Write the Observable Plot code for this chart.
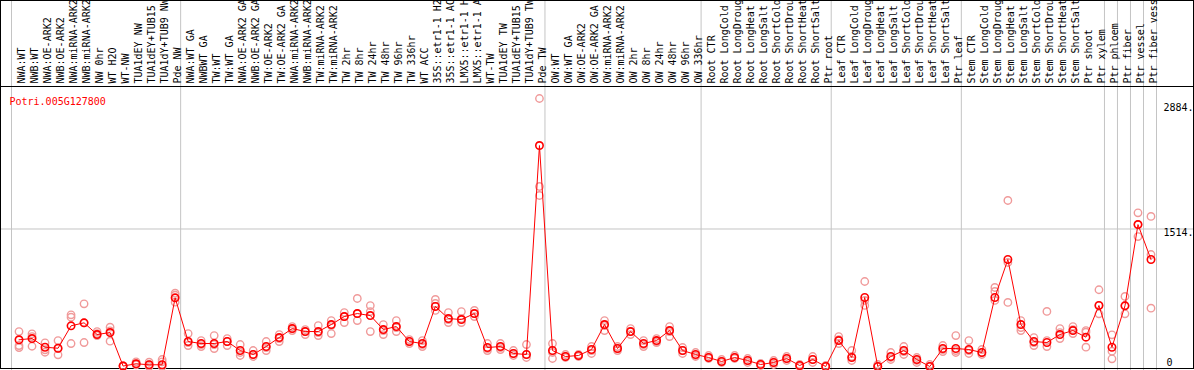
<!DOCTYPE html>
<html><head><meta charset="utf-8">
<script src="https://cdn.jsdelivr.net/npm/d3@7"></script>
<script src="https://cdn.jsdelivr.net/npm/@observablehq/plot@0.6"></script>
<style>html,body{margin:0;padding:0;background:#fff;} svg{display:block}</style>
</head><body><div id="chart"></div>
<script>
const geneId = "Potri.005G127800";
const categories = [
"NWA:WT","NWB:WT","NWA:OE-ARK2","NWB:OE-ARK2","NWA:miRNA-ARK2","NWB:miRNA-ARK2","NW 0hr","WT H2O","WT-NW","TUA1dEY NW","TUA1dEY+TUB15","TUA1dY+TUB9 NW","Pde NW",
"NWA:WT GA","NWBWT GA","TW:WT","TW:WT GA","NWA:OE-ARK2 GA","NWB:OE-ARK2 GA","TW:OE-ARK2","TW:OE-ARK2 GA","NWA:miRNA-ARK2","NWB:miRNA-ARK2","TW:miRNA-ARK2","TW:miRNA-ARK2","TW 2hr","TW 8hr","TW 24hr","TW 48hr","TW 96hr","TW 336hr","WT ACC","35S::etr1-1 H2","35S::etr1-1 AC","LMX5::etr1-1 H","LMX5::etr1-1 A","WT-TW","TUA1dEY TW","TUA1dEY+TUB15","TUA1dY+TUB9 TW","Pde TW",
"OW:WT","OW:WT GA","OW:OE-ARK2","OW:OE-ARK2 GA","OW:miRNA-ARK2","OW:miRNA-ARK2","OW 2hr","OW 8hr","OW 24hr","OW 48hr","OW 96hr","OW 336hr",
"Root CTR","Root LongCold","Root LongDroug","Root LongHeat","Root LongSalt","Root ShortCold","Root ShortDrou","Root ShortHeat","Root ShortSalt","Ptr root",
"Leaf CTR","Leaf LongCold","Leaf LongDroug","Leaf LongHeat","Leaf LongSalt","Leaf ShortCold","Leaf ShortDrou","Leaf ShortHeat","Leaf ShortSalt","Ptr leaf",
"Stem CTR","Stem LongCold","Stem LongDroug","Stem LongHeat","Stem LongSalt","Stem ShortCold","Stem ShortDrou","Stem ShortHeat","Stem ShortSalt","Ptr shoot","Ptr xylem",
"Ptr phloem","Ptr fiber","Ptr vessel","Ptr fiber vess"
];
// index of the first sample of each group (and the end)
const groupBreaks = [0,13,41,53,63,73,84,85,86,87,88];
const means = [
294,308,212,201,448,481,352,374,5,30,19,19,756,
275,253,253,275,176,132,220,319,418,385,385,462,550,583,561,407,440,275,253,661,528,517,583,209,220,143,132,2433,
176,110,121,187,462,198,385,253,286,396,176,132,
99,55,99,66,22,44,88,11,77,0,
286,99,760,0,110,176,77,0,198,198,
187,154,760,1178,462,275,264,352,396,323,672,
212,668,1563,1178
];
const rep1 = [
385,360,261,286,569,690,385,433,5,52,47,77,807,
363,286,341,308,242,176,275,352,440,407,451,506,594,749,671,462,506,297,286,738,594,605,617,253,253,176,242,2951,
253,132,132,220,506,220,418,286,308,440,209,154,
121,77,121,88,33,66,110,22,110,11,
330,176,936,22,154,220,99,22,231,341,
286,187,870,1828,506,319,606,418,440,396,845,
349,771,1692,1652
];
const rep2 = [
231,330,184,198,543,481,341,393,5,30,19,52,785,
264,242,242,275,154,132,209,308,418,385,374,451,550,583,605,396,429,275,242,694,517,528,583,198,209,143,132,1982,
154,110,110,176,451,198,385,242,275,385,176,121,
88,44,88,44,11,22,66,0,44,0,
297,110,727,0,99,165,66,0,187,176,
176,154,826,1145,429,264,286,374,407,378,580,
168,580,1431,1233
];
const rep3 = [
209,223,157,129,253,264,363,279,10,19,0,0,708,
231,220,198,231,121,110,176,275,396,352,341,363,484,506,385,352,385,253,220,617,484,484,550,176,187,121,99,1883,
88,99,121,143,396,176,352,220,264,330,143,110,
99,55,99,66,22,44,88,11,77,0,
253,66,672,0,77,132,44,0,165,154,
143,132,727,705,396,231,220,308,363,213,672,
85,672,1563,642
];
const tickValues = [2884, 1514, 0];
const tickLabels = ["2884.", "1514.", "0"];
const yMax = 3083;

const meanRows = means.map((v, i) => ({i, v}));
const repRows = [];
[rep1, rep2, rep3].forEach(r => r.forEach((v, i) => { if (v != null) repRows.push({i, v}); }));

const font = "DejaVu Sans Mono";
const chart = Plot.plot({
  width: 1194, height: 370,
  marginTop: 86, marginBottom: 4, marginLeft: 11, marginRight: 38,
  style: {fontFamily: font, fontSize: "10px", background: "white", color: "black"},
  x: {type: "linear", domain: [-0.5, categories.length - 0.5], axis: null},
  y: {type: "linear", domain: [0, yMax], axis: null},
  marks: [
    Plot.ruleY([1514], {stroke: "#c4c4c4", strokeWidth: 1, insetLeft: -11, insetRight: -38}),
    Plot.ruleX(groupBreaks, {x: d => d - 0.5, stroke: "#c4c4c4", strokeWidth: 1, insetTop: -86, insetBottom: -4}),
    Plot.frame({stroke: "black", insetLeft: -11, insetTop: -86, insetRight: -37, insetBottom: -2}),
    Plot.ruleY([yMax], {stroke: "black", insetLeft: -11, insetRight: -38}),
    Plot.text(categories, {x: (d, i) => i, text: d => d, frameAnchor: "top", dy: -3, rotate: -90, textAnchor: "start", fill: "black", fontFamily: font, fontSize: 10}),
    Plot.text([geneId], {frameAnchor: "top-left", dx: -2, dy: 11, textAnchor: "start", fill: "red", fontFamily: font, fontSize: 10}),
    Plot.text(tickValues.slice(0, 2), {y: d => d, text: (d, i) => tickLabels[i], frameAnchor: "right", dx: 7, dy: 3.5, textAnchor: "start", fill: "black", fontFamily: font, fontSize: 10}),
    Plot.text(tickValues.slice(2), {y: d => d, text: (d, i) => tickLabels[i + 2], frameAnchor: "right", dx: 10, dy: -4, textAnchor: "start", fill: "black", fontFamily: font, fontSize: 10}),
    Plot.dot(repRows, {x: "i", y: "v", r: 3.7, stroke: "#f09a9a", strokeWidth: 1.4, fill: "none", dx: 1}),
    Plot.line(meanRows, {x: "i", y: "v", stroke: "red", strokeWidth: 1, dx: 1}),
    Plot.dot(meanRows, {x: "i", y: "v", r: 3.7, stroke: "red", strokeWidth: 1.6, fill: "none", dx: 1})
  ]
});
document.getElementById("chart").appendChild(chart);
</script>
</body></html>
